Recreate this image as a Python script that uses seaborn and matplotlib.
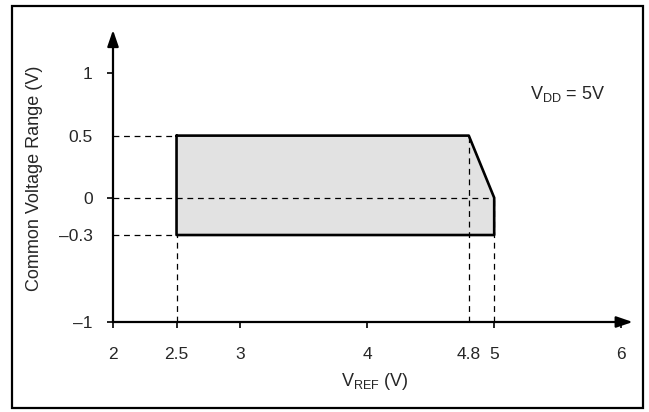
import matplotlib
matplotlib.use("Agg")
import matplotlib.pyplot as plt
from matplotlib.patches import Rectangle
import seaborn as sns

# Operating region outline (V_REF vs common-mode voltage)
vref = [2.5, 4.8, 5.0, 5.0, 2.5, 2.5]
vcm = [0.5, 0.5, 0.0, -0.3, -0.3, 0.5]

# Axis ticks and labels
x_ticks = [2, 2.5, 3, 4, 4.8, 5, 6]
x_labels = ["2", "2.5", "3", "4", "4.8", "5", "6"]
y_ticks = [-1, -0.3, 0, 0.5, 1]
y_labels = ["\u20131", "\u20130.3", "0", "0.5", "1"]

sns.set_style("white")
plt.rcParams["font.family"] = ["Liberation Sans", "DejaVu Sans"]
plt.rcParams["mathtext.fontset"] = "custom"
plt.rcParams["mathtext.rm"] = "Liberation Sans"
plt.rcParams["lines.scale_dashes"] = False

W, H = 649, 412
fig = plt.figure(figsize=(W / 100, H / 100), dpi=100)

# outer frame
fig.patches.append(Rectangle((12 / W, 4 / H), (643 - 12) / W, (406 - 4) / H,
                             transform=fig.transFigure, fill=False,
                             edgecolor="black", linewidth=1.6))

x0, x1 = 2.0, 6.09
y0, y1 = -1.0, 1.35
px_left, px_right = 113, 632.7
px_bottom, px_top = 322, 30
ax = fig.add_axes([px_left / W, (H - px_bottom) / H,
                   (px_right - px_left) / W, (px_bottom - px_top) / H])
ax.set_xlim(x0, x1)
ax.set_ylim(y0, y1)
for s in ax.spines.values():
    s.set_visible(False)
ax.patch.set_alpha(0)

# shaded region and outline
ax.fill(vref, vcm, color="#e2e2e2", zorder=1, linewidth=0)
sns.lineplot(x=vref, y=vcm, sort=False, estimator=None, color="black",
             linewidth=1.9, ax=ax, zorder=4)

# dashed guide lines
dash = (0, (4.2, 3.4))
kw = dict(colors="black", linewidth=0.9, linestyles=dash, zorder=3)
ax.hlines(vcm[0], x0, vref[0], **kw)
ax.hlines(vcm[2], x0, vref[2], **kw)
ax.hlines(vcm[3], x0, vref[0], **kw)
ax.vlines(vref[0], y0, vcm[4], **kw)
ax.vlines(vref[1], y0, vcm[1], **kw)
ax.vlines(vref[2], y0, vcm[2], **kw)

# axes with arrow heads
arrow = dict(arrowstyle="-|>,head_length=0.7,head_width=0.24",
             color="black", lw=1.6, mutation_scale=14, shrinkA=0, shrinkB=0)
ax.annotate("", xy=(x1, y0), xytext=(x0, y0), arrowprops=arrow, zorder=5)
ax.annotate("", xy=(x0, y1), xytext=(x0, y0), arrowprops=arrow, zorder=5)

ax.set_xticks(x_ticks)
ax.set_xticklabels(x_labels)
ax.set_yticks(y_ticks)
ax.set_yticklabels(y_labels)
ax.tick_params(axis="x", direction="out", length=4.5, width=1.2, pad=13.5,
               labelsize=12.5, bottom=True, color="black")
ax.tick_params(axis="y", direction="out", length=4.5, width=1.2, pad=10,
               labelsize=12.5, left=True, color="black")
xt = ax.xaxis.get_major_ticks()
xt[4].tick1line.set_visible(False)
yt = ax.yaxis.get_major_ticks()
yt[1].tick1line.set_visible(False)
yt[3].tick1line.set_visible(False)

fig.text(375 / W, (H - 382) / H, r"$\mathregular{V_{REF}}$ (V)",
         ha="center", va="center", fontsize=13)
fig.text(35 / W, (H - 178) / H, "Common Voltage Range (V)", rotation=90,
         ha="center", va="center", fontsize=13)
fig.text(530 / W, (H - 94) / H, r"$\mathregular{V_{DD}}$ = 5V",
         ha="left", va="center", fontsize=13)

fig.savefig("out.png", dpi=100)
